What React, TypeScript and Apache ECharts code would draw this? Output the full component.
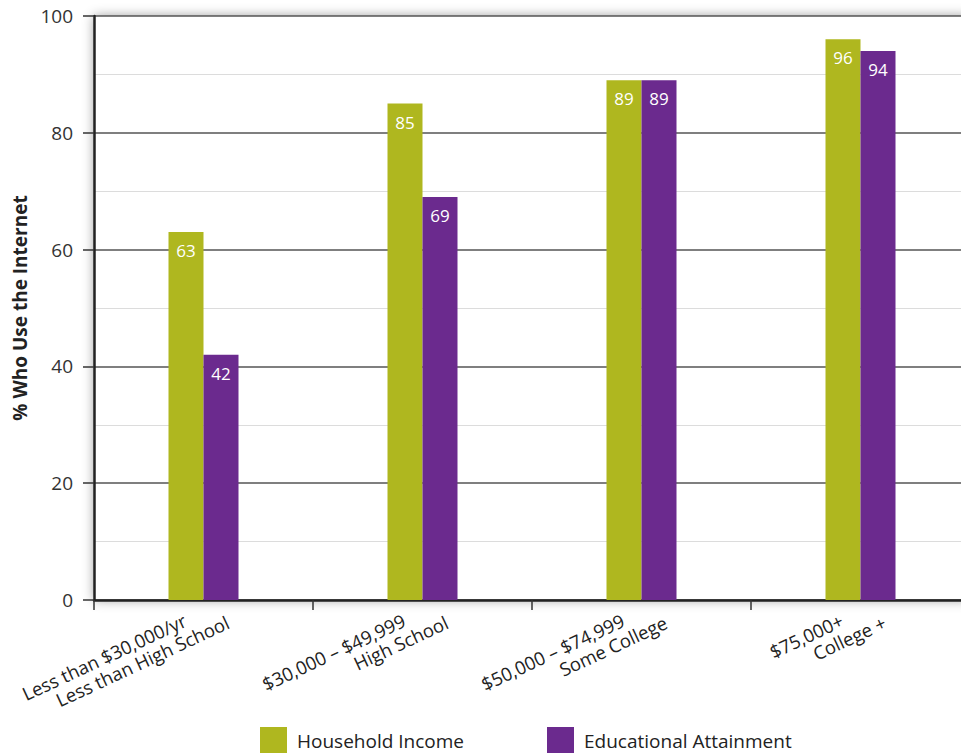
import React, { useEffect, useRef } from 'react';
import * as echarts from 'echarts';

const categories = [
  'Less than $30,000/yr\nLess than High School',
  '$30,000 – $49,999\nHigh School',
  '$50,000 – $74,999\nSome College',
  '$75,000+\nCollege +',
];
const seriesNames = ['Household Income', 'Educational Attainment'];
const householdIncome = [63, 85, 89, 96];
const educationalAttainment = [42, 69, 89, 94];
const yMin = 0;
const yMax = 100;
const yInterval = 20;

const GREEN = '#afb71f';
const PURPLE = '#6b2a8e';
const FONT = '"Open Sans", "Noto Sans", sans-serif';

export default function App() {
  const ref = useRef<HTMLDivElement>(null);
  useEffect(() => {
    if (!ref.current) return;
    const chart = echarts.init(ref.current, undefined, { renderer: 'svg' });
    const gridBox = { left: 94, top: 16, width: 876, height: 584 };
    const legendCommon = {
      top: 727,
      padding: 0,
      itemWidth: 27,
      itemHeight: 27,
      icon: 'rect',
      textStyle: { fontSize: 19, color: '#222', fontFamily: FONT, padding: [0, 0, 0, 5] },
    };
    const labelText = { fontSize: 18.5, lineHeight: 20, color: '#222', fontFamily: FONT };
    const barLabel = {
      show: true,
      position: 'insideTop',
      distance: 10,
      color: '#fff',
      fontSize: 17,
      fontFamily: FONT,
    };
    chart.setOption({
      animation: false,
      backgroundColor: '#ffffff',
      textStyle: { fontFamily: FONT },
      grid: [
        {
          ...gridBox,
          show: true,
          backgroundColor: '#ffffff',
          borderWidth: 0,
          shadowBlur: 12,
          shadowColor: 'rgba(0,0,0,0.4)',
          containLabel: false,
          outerBoundsMode: 'none',
        },
        { ...gridBox, left: 114, show: false, containLabel: false, outerBoundsMode: 'none' },
      ],
      legend: [
        { ...legendCommon, data: [seriesNames[0]], left: 260 },
        { ...legendCommon, data: [seriesNames[1]], left: 547 },
      ],
      xAxis: [
        {
          type: 'category',
          gridIndex: 0,
          data: categories,
          axisLine: { show: true, lineStyle: { color: '#222', width: 2.5 } },
          axisTick: { show: true, length: 10, lineStyle: { color: '#333', width: 1.5 } },
          axisLabel: { show: false },
          splitLine: { show: false },
        },
        {
          type: 'category',
          gridIndex: 1,
          data: categories,
          axisLine: { show: false },
          axisTick: { show: false },
          splitLine: { show: false },
          axisLabel: {
            show: true,
            interval: 0,
            rotate: 25,
            margin: 12,
            ...labelText,
            formatter: (v: string) => {
              const [a, b] = v.split('\n');
              return `{l1|${a}}\n{l2|${b}}`;
            },
            rich: {
              l1: { ...labelText, align: 'right', padding: [0, 38, 0, 0] },
              l2: { ...labelText, align: 'right' },
            },
          },
        },
      ],
      yAxis: [
        {
          type: 'value',
          gridIndex: 0,
          min: yMin,
          max: yMax,
          interval: yInterval,
          name: '% Who Use the Internet',
          nameLocation: 'middle',
          nameGap: 65,
          nameTextStyle: { fontSize: 19, fontWeight: 'bold', color: '#222', fontFamily: FONT },
          axisLine: { show: true, lineStyle: { color: '#222', width: 2.5 } },
          axisTick: { show: true, length: 11, lineStyle: { color: '#333', width: 1.5 } },
          axisLabel: { margin: 21, fontSize: 19, color: '#333', fontFamily: FONT },
          splitLine: { show: true, lineStyle: { color: '#555', width: 1.5 } },
          minorTick: { show: false, splitNumber: 2 },
          minorSplitLine: { show: true, lineStyle: { color: '#dcdcdc', width: 1 } },
        },
        { type: 'value', gridIndex: 1, min: yMin, max: yMax, show: false },
      ],
      series: [
        {
          name: seriesNames[0],
          type: 'bar',
          xAxisIndex: 0,
          yAxisIndex: 0,
          data: householdIncome,
          barWidth: 35,
          barGap: '0%',
          itemStyle: { color: GREEN },
          label: barLabel,
        },
        {
          name: seriesNames[1],
          type: 'bar',
          xAxisIndex: 0,
          yAxisIndex: 0,
          data: educationalAttainment,
          barWidth: 35,
          barGap: '0%',
          itemStyle: { color: PURPLE },
          label: barLabel,
        },
      ],
    });
    return () => chart.dispose();
  }, []);
  return (
    <div
      ref={ref}
      style={{ position: 'fixed', left: 0, top: 0, width: 961, height: 753, background: '#fff' }}
    />
  );
}
